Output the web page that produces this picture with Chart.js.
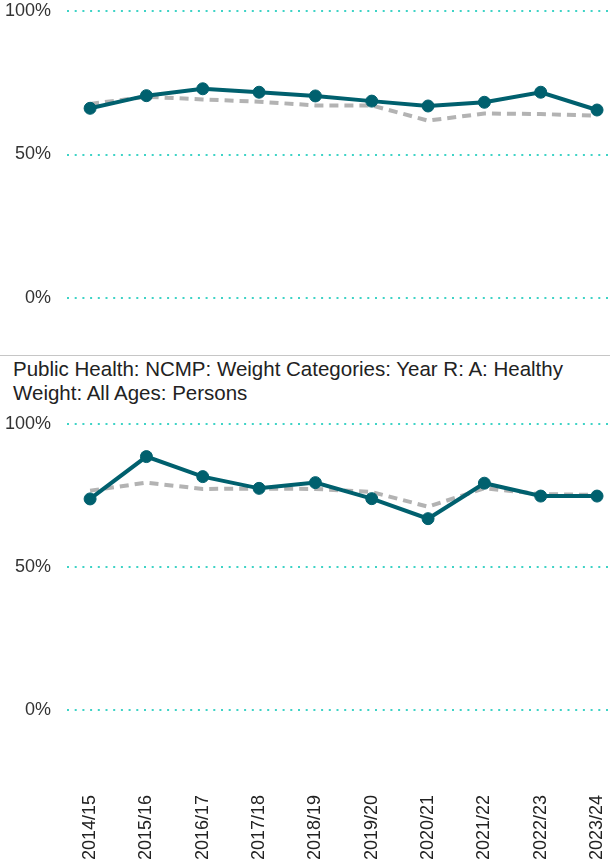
<!DOCTYPE html>
<html>
<head>
<meta charset="utf-8">
<script src="https://cdn.jsdelivr.net/npm/chart.js@4.4.1/dist/chart.umd.min.js"></script>
<style>
    body { margin: 0; background: #fff; width: 610px; overflow: hidden; }
    canvas { display: block; }
    .sep { height: 0; border-top: 1px solid #c6c6c6; }
    .title {
        font-family: "Liberation Sans", Arial, sans-serif;
        font-size: 20.5px;
        line-height: 24px;
        color: #222;
        padding: 1px 0 0 13px;
        height: 48px;
        white-space: nowrap;
    }
</style>
</head>
<body>
<canvas id="topChart" width="610" height="355"></canvas>
<div class="sep"></div>
<div class="title">Public Health: NCMP: Weight Categories: Year R: A: Healthy<br>Weight: All Ages: Persons</div>
<canvas id="bottomChart" width="610" height="462"></canvas>
<script>
const categories = ['2014/15', '2015/16', '2016/17', '2017/18', '2018/19', '2019/20', '2020/21', '2021/22', '2022/23', '2023/24'];
const yTicks = [0, 50, 100];

// upper chart (title is above the visible part)
const topArea = [66.1, 70.5, 72.9, 71.7, 70.4, 68.6, 66.9, 68.2, 71.7, 65.5];
const topEngland = [67.6, 70.1, 69.2, 68.4, 67.1, 67.1, 61.8, 64.3, 64.1, 63.5];

// Year R: Healthy Weight
const healthyArea = [73.8, 88.6, 81.6, 77.5, 79.5, 73.9, 66.9, 79.3, 74.8, 74.8];
const healthyEngland = [76.7, 79.5, 77.3, 77.4, 77.3, 76.2, 71.1, 77.5, 75.5, 75.2];

Chart.defaults.font.family = '"Liberation Sans", Arial, sans-serif';
Chart.defaults.font.size = 18;

const TEAL = '#00606e';
const GREY = '#b3b3b3';

function toPoints(values) {
    return values.map((v, i) => ({x: i, y: v}));
}

function makeChart(id, areaValues, englandValues, showLabels, padding) {
    return new Chart(document.getElementById(id), {
        type: 'line',
        data: {
            datasets: [{
                label: 'Area',
                data: toPoints(areaValues),
                borderColor: TEAL,
                backgroundColor: TEAL,
                pointBackgroundColor: TEAL,
                borderWidth: 4,
                pointRadius: 6,
                pointBorderWidth: 1,
                tension: 0
            }, {
                label: 'England',
                data: toPoints(englandValues),
                borderColor: GREY,
                borderWidth: 4,
                borderDash: [9, 6],
                pointRadius: 0,
                tension: 0
            }]
        },
        options: {
            responsive: false,
            animation: false,
            layout: {padding: padding, autoPadding: false},
            plugins: {
                legend: {display: false},
                tooltip: {enabled: false}
            },
            scales: {
                x: {
                    type: 'linear',
                    min: -0.41,
                    max: 9.23,
                    display: showLabels,
                    grid: {display: false, drawTicks: false},
                    border: {display: false},
                    afterBuildTicks: (axis) => {
                        axis.ticks = categories.map((c, i) => ({value: i}));
                    },
                    afterFit: (axis) => {
                        // rotated year labels sit well below the plot
                        axis.height = showLabels ? 157 : 0;
                        axis.paddingLeft = 0;
                        axis.paddingRight = 0;
                    },
                    ticks: {
                        autoSkip: false,
                        minRotation: 90,
                        maxRotation: 90,
                        padding: 85,
                        color: '#222',
                        callback: (v) => categories[v]
                    }
                },
                y: {
                    min: 0,
                    max: 100,
                    afterBuildTicks: (axis) => {
                        axis.ticks = yTicks.map(v => ({value: v}));
                    },
                    afterFit: (axis) => {
                        axis.width = 62;
                        axis.paddingTop = 0;
                        axis.paddingBottom = 0;
                    },
                    grid: {color: '#3ed3c6', lineWidth: 2, drawTicks: false},
                    border: {display: false, dash: [2, 5.7]},
                    ticks: {
                        padding: 16,
                        color: '#333',
                        callback: (v) => v + '%'
                    }
                }
            }
        }
    });
}

makeChart('topChart', topArea, topEngland, false, {left: 5, top: 11, right: 0, bottom: 57});
makeChart('bottomChart', healthyArea, healthyEngland, true, {left: 5, top: 19, right: 0, bottom: 0});
</script>
</body>
</html>
